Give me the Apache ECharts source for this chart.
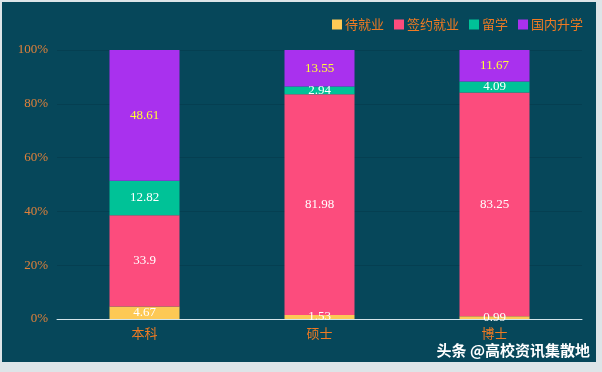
<!DOCTYPE html>
<html><head><meta charset="utf-8">
<script src="https://cdn.jsdelivr.net/npm/echarts@6/dist/echarts.min.js"></script>
<style>
html,body{margin:0;padding:0;background:#dde5e8;width:602px;height:372px;overflow:hidden;}
#main{position:absolute;left:2px;top:2px;width:594px;height:360px;}
</style></head>
<body><div id="main"></div>
<script>
var categories = ['本科', '硕士', '博士'];
var seriesNames = ['待就业', '签约就业', '留学', '国内升学'];
var waiting = [4.67, 1.53, 0.99];
var employed = [33.9, 81.98, 83.25];
var abroad = [12.82, 2.94, 4.09];
var domestic = [48.61, 13.55, 11.67];
var yTicks = [0, 20, 40, 60, 80, 100];

var colors = ['#fdc955', '#fc4c7d', '#00c297', '#a931ee'];
var values = [waiting, employed, abroad, domestic];
var chart = echarts.init(document.getElementById('main'));
var series = seriesNames.map(function (n, i) {
  return {
    name: n, type: 'bar', stack: 'total', barWidth: '40%',
    data: values[i],
    itemStyle: { color: colors[i] },
    label: {
      show: true, position: 'inside',
      color: i === 3 ? '#ffff33' : '#ffffff',
      fontFamily: 'Liberation Serif', fontSize: 13
    }
  };
});
chart.setOption({
  backgroundColor: '#06475a',
  animation: false,
  legend: {
    right: 8, top: 11, itemWidth: 10, itemHeight: 10, itemGap: 10,
    icon: 'rect',
    textStyle: { color: '#f07a22', fontSize: 13, fontFamily: 'Noto Sans CJK SC', padding: [0, 0, 0, -2] },
    data: seriesNames
  },
  grid: { left: 55, right: 14, top: 48, bottom: 43 },
  xAxis: {
    type: 'category', data: categories,
    axisLine: { lineStyle: { color: '#d4e4ea', width: 1 } },
    axisTick: { show: false },
    axisLabel: { color: '#f07a22', fontSize: 13, fontFamily: 'Noto Sans CJK SC', margin: 8 }
  },
  yAxis: {
    type: 'value', min: yTicks[0], max: yTicks[yTicks.length - 1], interval: 20,
    axisLine: { show: false }, axisTick: { show: false },
    splitLine: { lineStyle: { color: '#053f51', width: 1 } },
    axisLabel: { color: '#e0803a', fontSize: 13, fontFamily: 'Liberation Serif', margin: 9,
      formatter: function (v) { return v + '%'; } }
  },
  graphic: [{
    type: 'text', right: 6, bottom: 4,
    style: {
      text: '头条 @高校资讯集散地', fill: '#ffffff',
      font: 'bold 15px "Noto Sans CJK SC"',
      shadowColor: 'rgba(0,0,0,0.8)', shadowBlur: 2, shadowOffsetX: 1, shadowOffsetY: 1
    }
  }],
  series: series
});
</script></body></html>
